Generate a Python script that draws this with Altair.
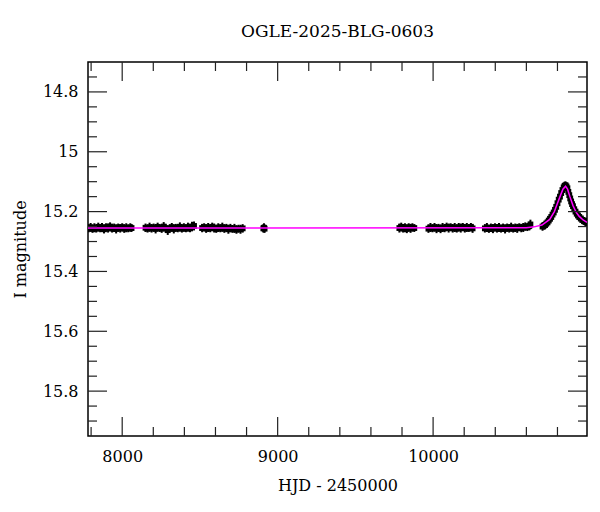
import altair as alt
import pandas as pd

TITLE = "OGLE-2025-BLG-0603"
FONT = "DejaVu Serif"

# (HJD-2450000, I mag, error) per observing season
season1 = [(7785,15.256,0.013),(7797,15.252,0.014),(7809,15.258,0.013),(7821,15.254,0.015),(7833,15.257,0.013),
           (7846,15.251,0.014),(7858,15.256,0.013),(7870,15.253,0.015),(7883,15.259,0.014),(7896,15.252,0.013),
           (7909,15.255,0.015),(7922,15.250,0.014),(7935,15.257,0.013),(7948,15.254,0.014),(7961,15.258,0.015),
           (7974,15.253,0.013),(7987,15.256,0.014),(8000,15.252,0.013),(8013,15.257,0.014),(8026,15.254,0.015),
           (8039,15.256,0.013),(8052,15.253,0.014),(8060,15.255,0.013)]
season2 = [(8150,15.254,0.014),(8163,15.257,0.013),(8176,15.252,0.015),(8189,15.256,0.014),(8202,15.253,0.013),
           (8215,15.258,0.015),(8228,15.251,0.014),(8241,15.255,0.013),(8254,15.257,0.014),(8267,15.250,0.015),
           (8280,15.256,0.014),(8293,15.262,0.016),(8306,15.256,0.013),(8319,15.252,0.014),(8332,15.258,0.015),
           (8345,15.254,0.013),(8358,15.255,0.014),(8371,15.251,0.015),(8384,15.257,0.013),(8397,15.253,0.014),
           (8410,15.256,0.013),(8423,15.252,0.015),(8436,15.255,0.014),(8449,15.250,0.016),(8462,15.248,0.015)]
season3 = [(8514,15.255,0.014),(8527,15.252,0.013),(8540,15.257,0.014),(8553,15.253,0.015),(8566,15.256,0.013),
           (8579,15.251,0.014),(8592,15.255,0.015),(8605,15.258,0.013),(8618,15.253,0.014),(8631,15.256,0.013),
           (8644,15.252,0.015),(8657,15.257,0.014),(8670,15.254,0.013),(8683,15.259,0.015),(8696,15.255,0.014),
           (8709,15.258,0.013),(8722,15.256,0.015),(8735,15.260,0.014),(8748,15.257,0.013),(8761,15.259,0.015),
           (8775,15.256,0.014)]
season4 = [(8908,15.256,0.014),(8912,15.254,0.015),(8916,15.257,0.014)]
season5 = [(9783,15.255,0.015),(9795,15.251,0.014),(9807,15.257,0.013),(9819,15.254,0.015),(9831,15.258,0.014),
           (9843,15.252,0.013),(9855,15.256,0.015),(9867,15.253,0.014),(9879,15.255,0.013)]
season6 = [(9970,15.257,0.014),(9983,15.253,0.015),(9996,15.256,0.013),(10009,15.252,0.014),(10022,15.257,0.015),
           (10035,15.254,0.013),(10048,15.258,0.014),(10061,15.253,0.015),(10074,15.256,0.013),(10087,15.251,0.014),
           (10100,15.255,0.015),(10113,15.252,0.013),(10126,15.256,0.014),(10139,15.253,0.015),(10152,15.257,0.013),
           (10165,15.252,0.014),(10178,15.255,0.015),(10191,15.251,0.013),(10204,15.256,0.014),(10217,15.253,0.015),
           (10230,15.255,0.013),(10243,15.252,0.014),(10254,15.256,0.015)]
season7 = [(10333,15.256,0.014),(10346,15.253,0.015),(10359,15.258,0.013),(10372,15.254,0.014),(10385,15.257,0.015),
           (10398,15.252,0.013),(10411,15.256,0.014),(10424,15.253,0.015),(10437,15.257,0.013),(10450,15.254,0.014),
           (10463,15.258,0.015),(10476,15.253,0.013),(10489,15.256,0.014),(10502,15.252,0.015),(10515,15.257,0.013),
           (10528,15.254,0.014),(10541,15.256,0.015),(10554,15.252,0.013),(10567,15.255,0.014),(10580,15.253,0.015),
           (10593,15.250,0.014),(10606,15.252,0.013),(10619,15.248,0.015),(10626,15.243,0.016)]
season8 = [(10704,15.250,0.014),(10712,15.247,0.013),(10720,15.245,0.014),(10728,15.240,0.013),(10736,15.236,0.014),
           (10744,15.230,0.013),(10752,15.224,0.014),(10760,15.218,0.013),(10768,15.210,0.014),(10776,15.203,0.013),
           (10784,15.194,0.014),(10792,15.184,0.013),(10800,15.172,0.014),(10808,15.160,0.013),(10816,15.150,0.014),
           (10824,15.138,0.013),(10832,15.128,0.014),(10840,15.119,0.013),(10846,15.114,0.014),(10852,15.112,0.013),
           (10858,15.116,0.014),(10864,15.122,0.013),(10870,15.134,0.014),(10876,15.145,0.013),(10882,15.156,0.014),
           (10888,15.166,0.013),(10894,15.175,0.014),(10900,15.182,0.013),(10908,15.192,0.014),(10916,15.200,0.013),
           (10924,15.207,0.014),(10932,15.213,0.013),(10940,15.218,0.014),(10950,15.223,0.013),(10960,15.228,0.014),
           (10970,15.231,0.013),(10980,15.234,0.014),(10988,15.236,0.013)]

# microlensing model curve
model_hjd = [7780, 10600, 10650, 10700, 10750, 10780, 10800, 10820, 10835, 10852,
             10865, 10880, 10900, 10920, 10940, 10965, 10990]
model_mag = [15.255, 15.254, 15.251, 15.245, 15.226, 15.200, 15.172, 15.145, 15.125, 15.115,
             15.125, 15.150, 15.180, 15.202, 15.216, 15.228, 15.236]

# tick positions
x_major = [8000, 9000, 10000]
x_minor = [7800, 8200, 8400, 8600, 8800, 9200, 9400, 9600, 9800, 10200, 10400, 10600, 10800]
y_major = [14.8, 15.0, 15.2, 15.4, 15.6, 15.8]
y_minor = [14.75, 14.85, 14.9, 14.95, 15.05, 15.1, 15.15, 15.25, 15.3, 15.35, 15.45,
           15.5, 15.55, 15.65, 15.7, 15.75, 15.85, 15.9]

W, H = 499, 374
X_DOMAIN = [7780, 10990]
Y_DOMAIN = [14.7, 15.95]

rows = []
for s in [season1, season2, season3, season4, season5, season6, season7, season8]:
    for h, m, e in s:
        rows.append({"hjd": h, "mag": m, "lo": m - e, "hi": m + e})
obs = pd.DataFrame(rows)
model = pd.DataFrame({"hjd": model_hjd, "mag": model_mag})

xs = alt.Scale(domain=X_DOMAIN, nice=False, zero=False)
ys = alt.Scale(domain=Y_DOMAIN, nice=False, zero=False, reverse=True)

xaxis = alt.Axis(values=x_major, format="d", ticks=False, domain=False, grid=False,
                 labelFont=FONT, labelFontSize=16, labelColor="black", labelPadding=12,
                 title="HJD - 2450000", titleFont=FONT, titleFontSize=16, titleFontWeight="normal",
                 titleColor="black", titleY=54, titleBaseline="alphabetic")
yaxis = alt.Axis(values=y_major, format="~g", ticks=False, domain=False, grid=False,
                 labelFont=FONT, labelFontSize=16, labelColor="black", labelPadding=10,
                 title="I magnitude", titleFont=FONT, titleFontSize=16, titleFontWeight="normal",
                 titleColor="black", titleX=-68, titleY=H / 2, titleAngle=270, titleBaseline="middle")

err = alt.Chart(obs).mark_rule(color="black", strokeWidth=2, clip=True).encode(
    x=alt.X("hjd:Q", scale=xs, axis=xaxis),
    y=alt.Y("lo:Q", scale=ys, axis=yaxis),
    y2="hi:Q")
pts = alt.Chart(obs).mark_square(color="black", size=34, opacity=1, clip=True).encode(
    x=alt.X("hjd:Q", scale=xs), y=alt.Y("mag:Q", scale=ys))
line = alt.Chart(model).mark_line(color="#ff00ff", strokeWidth=1.5, clip=True).encode(
    x=alt.X("hjd:Q", scale=xs), y=alt.Y("mag:Q", scale=ys))

def xticks(vals, length):
    d = pd.DataFrame({"hjd": vals})
    b = alt.Chart(d).mark_rule(color="#222", strokeWidth=1.2).encode(
        x=alt.X("hjd:Q", scale=xs), y=alt.value(H), y2=alt.value(H - length))
    t = alt.Chart(d).mark_rule(color="#222", strokeWidth=1.2).encode(
        x=alt.X("hjd:Q", scale=xs), y=alt.value(0), y2=alt.value(length))
    return [b, t]

def yticks(vals, length):
    d = pd.DataFrame({"mag": vals})
    l = alt.Chart(d).mark_rule(color="#222", strokeWidth=1.2).encode(
        y=alt.Y("mag:Q", scale=ys), x=alt.value(0), x2=alt.value(length))
    r = alt.Chart(d).mark_rule(color="#222", strokeWidth=1.2).encode(
        y=alt.Y("mag:Q", scale=ys), x=alt.value(W), x2=alt.value(W - length))
    return [l, r]

layers = [err, pts, line] + xticks(x_major, 19) + xticks(x_minor, 9) + yticks(y_major, 19) + yticks(y_minor, 9)

chart = alt.layer(*layers).properties(
    width=W, height=H,
    title=alt.TitleParams(TITLE, font=FONT, fontSize=17, fontWeight="normal", color="black",
                          offset=20, anchor="middle"),
    autosize=alt.AutoSizeParams(type="none"),
    padding={"left": 80, "top": 54, "right": 5, "bottom": 60},
    background="white",
).configure_view(stroke="black", strokeWidth=1.5)

chart.save("out.html", embed_options={"renderer": "svg", "actions": False})
